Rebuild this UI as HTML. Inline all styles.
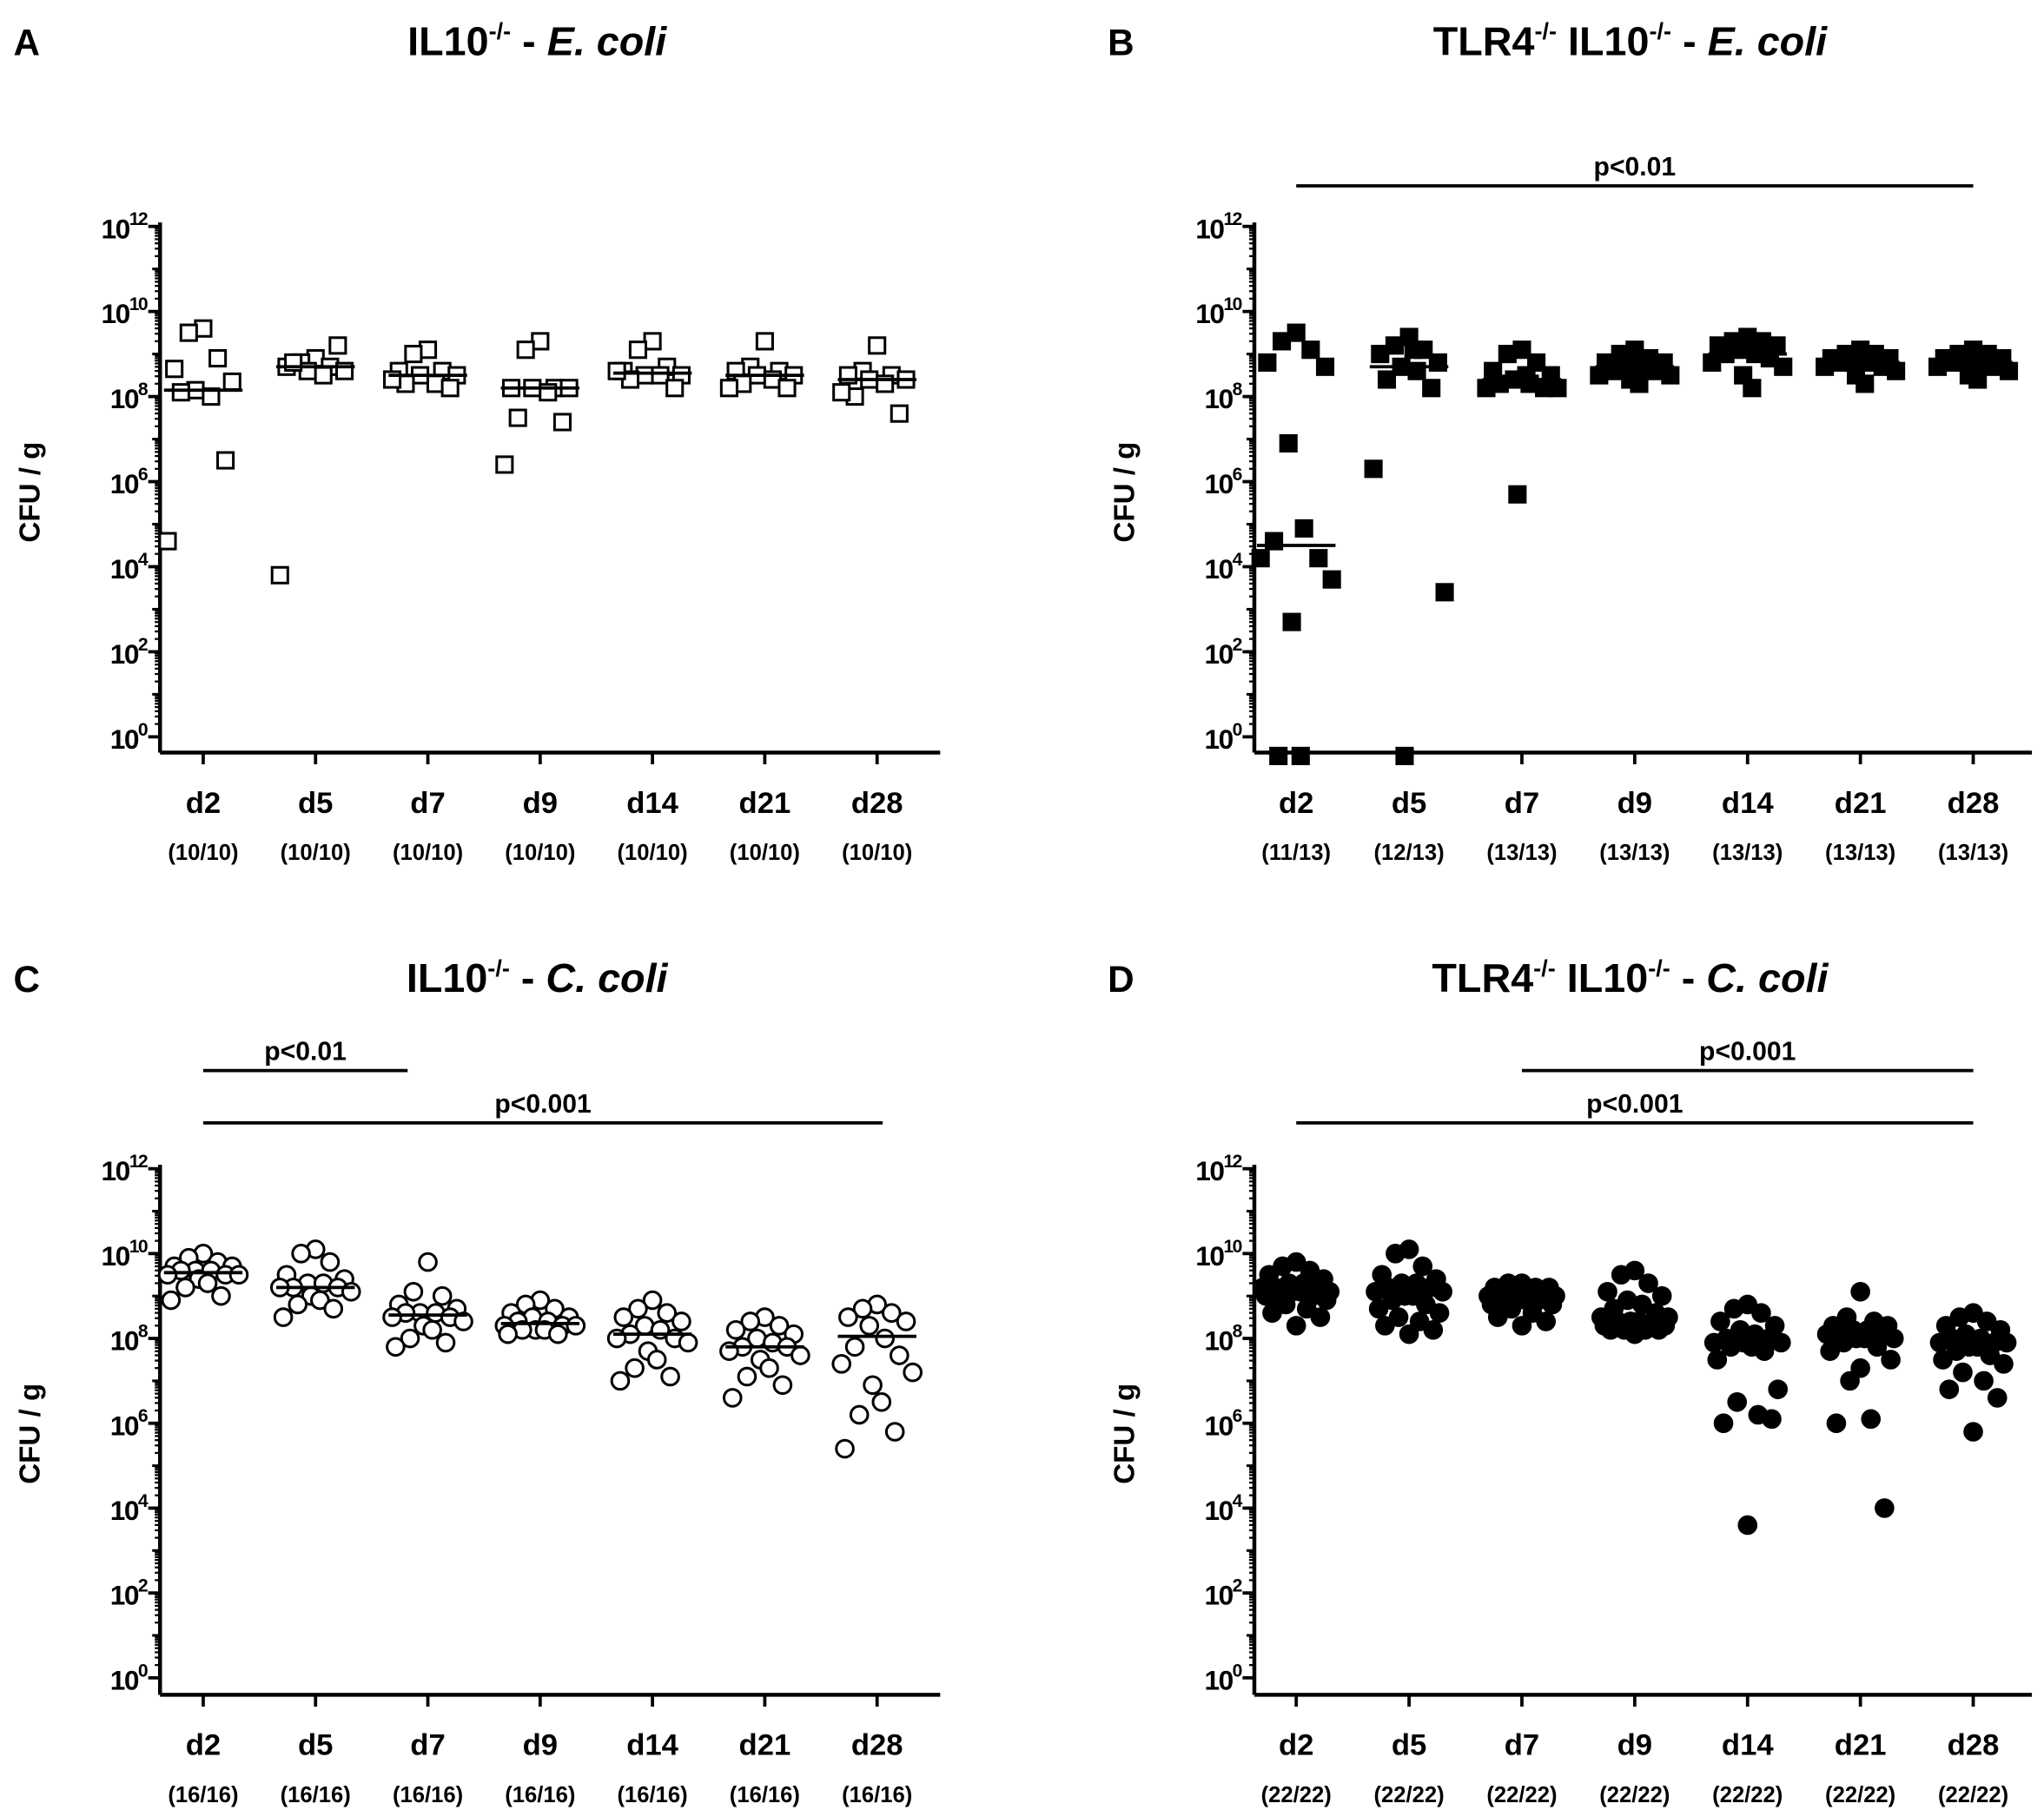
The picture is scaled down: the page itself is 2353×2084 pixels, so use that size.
<!DOCTYPE html>
<html><head><meta charset="utf-8"><style>
html,body{margin:0;padding:0;background:#fff}
svg{display:block}
text{font-family:"Liberation Sans",Arial,sans-serif;font-weight:bold;fill:#000}
</style></head><body>
<svg id="fig" width="2353" height="2084" viewBox="0 0 1561 1383" xmlns="http://www.w3.org/2000/svg"></svg>
<script>
const days = ["d2","d5","d7","d9","d14","d21","d28"];
const countsA = ["(10/10)","(10/10)","(10/10)","(10/10)","(10/10)","(10/10)","(10/10)"];
const countsB = ["(11/13)","(12/13)","(13/13)","(13/13)","(13/13)","(13/13)","(13/13)"];
const countsC = ["(16/16)","(16/16)","(16/16)","(16/16)","(16/16)","(16/16)","(16/16)"];
const countsD = ["(22/22)","(22/22)","(22/22)","(22/22)","(22/22)","(22/22)","(22/22)"];
const yTickExp = [0,2,4,6,8,10,12];
// log10 CFU/g values
const dataA = [
 [9.6,9.5,8.9,8.65,8.35,8.15,8.0,8.1,6.5,4.6],
 [8.9,8.8,8.7,8.7,8.6,8.6,8.5,8.8,9.2,3.8],
 [9.1,9.0,8.6,8.6,8.5,8.5,8.3,8.3,8.2,8.4],
 [9.3,9.1,8.2,8.2,8.2,8.2,8.1,7.5,7.4,6.4],
 [9.3,9.1,8.7,8.6,8.5,8.5,8.5,8.4,8.2,8.6],
 [9.3,8.7,8.6,8.6,8.5,8.5,8.4,8.3,8.2,8.2],
 [9.2,8.6,8.5,8.5,8.4,8.4,8.3,8.0,7.6,8.1]];
const medA = [8.15,8.7,8.5,8.2,8.55,8.5,8.4];
const dataB = [
 [9.5,9.3,9.1,8.8,8.7,6.9,4.9,4.6,4.2,4.2,3.7,2.7,-0.45,-0.45],
 [9.4,9.2,9.1,9.0,8.8,8.7,8.6,8.4,8.2,6.3,3.4,-0.45,9.1],
 [9.1,9.0,8.8,8.6,8.5,8.4,8.3,8.3,8.2,8.2,8.2,5.7,8.5],
 [9.1,9.0,8.9,8.8,8.8,8.7,8.7,8.6,8.6,8.5,8.5,8.4,8.3],
 [9.4,9.3,9.3,9.2,9.2,9.1,9.0,9.0,8.9,8.8,8.7,8.5,8.2],
 [9.1,9.0,9.0,8.9,8.9,8.8,8.8,8.8,8.7,8.7,8.6,8.5,8.3],
 [9.1,9.0,9.0,8.9,8.9,8.8,8.8,8.8,8.7,8.7,8.6,8.5,8.4]];
const medB = [4.5,8.7,8.4,8.7,9.0,8.8,8.8];
const dataC = [
 [10.0,9.9,9.8,9.7,9.7,9.6,9.6,9.6,9.5,9.5,9.5,9.4,9.3,9.2,9.0,8.9],
 [10.1,10.0,9.8,9.5,9.4,9.3,9.3,9.2,9.2,9.2,9.1,9.0,8.9,8.8,8.7,8.5],
 [9.8,9.1,9.0,8.8,8.7,8.6,8.6,8.6,8.5,8.5,8.4,8.3,8.2,8.0,7.9,7.8],
 [8.9,8.8,8.7,8.6,8.5,8.5,8.4,8.4,8.3,8.3,8.3,8.2,8.2,8.2,8.1,8.1],
 [8.9,8.7,8.6,8.5,8.4,8.3,8.2,8.1,8.0,8.0,7.9,7.7,7.5,7.3,7.1,7.0],
 [8.5,8.4,8.3,8.2,8.1,8.0,7.9,7.8,7.8,7.7,7.6,7.5,7.3,7.1,6.9,6.6],
 [8.8,8.7,8.6,8.5,8.4,8.3,8.0,7.8,7.6,7.4,7.2,6.9,6.5,6.2,5.8,5.4]];
const medC = [9.55,9.2,8.55,8.35,8.1,7.8,8.05];
const dataD = [
 [9.8,9.7,9.6,9.5,9.4,9.3,9.3,9.2,9.2,9.2,9.1,9.1,9.1,9.0,9.0,9.0,8.9,8.8,8.7,8.6,8.5,8.3],
 [10.1,10.0,9.7,9.5,9.4,9.3,9.3,9.2,9.2,9.1,9.1,9.0,9.0,8.9,8.8,8.7,8.6,8.5,8.4,8.3,8.2,8.1],
 [9.3,9.3,9.2,9.2,9.2,9.1,9.1,9.1,9.0,9.0,9.0,9.0,8.9,8.9,8.9,8.8,8.8,8.7,8.6,8.5,8.4,8.3],
 [9.6,9.5,9.3,9.1,9.0,8.9,8.8,8.7,8.6,8.5,8.5,8.4,8.4,8.4,8.3,8.3,8.3,8.2,8.2,8.2,8.2,8.1],
 [8.8,8.7,8.6,8.4,8.3,8.2,8.1,8.0,8.0,7.9,7.9,7.9,7.8,7.8,7.7,7.5,6.8,6.5,6.2,6.0,6.1,3.6],
 [9.1,8.5,8.4,8.3,8.3,8.2,8.2,8.1,8.1,8.1,8.0,8.0,8.0,7.9,7.8,7.7,7.5,7.0,6.1,6.0,4.0,7.3],
 [8.6,8.5,8.4,8.3,8.2,8.1,8.0,8.0,7.9,7.9,7.9,7.8,7.8,7.7,7.6,7.5,7.4,7.2,7.0,6.8,6.6,5.8]];
const medD = [9.1,9.05,9.0,8.45,7.9,8.05,7.9];

const NS="http://www.w3.org/2000/svg";
const svg=document.getElementById('fig');
function mk(tag,attrs,parent,txt){const e=document.createElementNS(NS,tag);for(const k in attrs)e.setAttribute(k,attrs[k]);if(txt!==undefined)e.textContent=txt;(parent||svg).appendChild(e);return e;}

function panel(cfg){
  const g=mk('g',{});
  
  
  const ax=cfg.ax, y12=cfg.y12, y0=cfg.y0, base=cfg.base;
  const yS=v=>y0-(v-0)*(y0-y12)/12;
  const xS=i=>cfg.x0+i*cfg.dx;
  const L=mk('text',{x:cfg.ax-112,y:cfg.ty,'font-size':28},g,cfg.letter);
  
  
  const T=mk('text',{x:cfg.tx,y:cfg.ty,'font-size':31,'text-anchor':'middle'},g);
  
  
  cfg.title.forEach(p=>{mk('tspan',p.a||{},T,p.t);});
  const ya=mk('line',{x1:ax,y1:y12-3,x2:ax,y2:base,stroke:'#000','stroke-width':3},g);
  
  
  const xa=mk('line',{x1:ax,y1:base,x2:cfg.xEnd,y2:base,stroke:'#000','stroke-width':3},g);
  
  
  for(let d=0;d<12;d++){for(let k=2;k<=9;k++){const yy=yS(d+Math.log10(k));mk('line',{x1:ax-4,y1:yy,x2:ax,y2:yy,stroke:'#000','stroke-width':1.5},g);}
    const yy=yS(d);mk('line',{x1:ax-6,y1:yy,x2:ax,y2:yy,stroke:'#000','stroke-width':2},g);}
  yTickExp.forEach(e=>{const yy=yS(e);
    mk('line',{x1:ax-9,y1:yy,x2:ax,y2:yy,stroke:'#000','stroke-width':2.5},g);
    const t=mk('text',{x:ax-10,y:yy+9,'font-size':21,'text-anchor':'end','letter-spacing':-1},g);
    
    
    mk('tspan',{},t,'10');mk('tspan',{dy:-10,'font-size':14},t,String(e));});
  const yl=mk('text',{x:0,y:0,'font-size':22,'text-anchor':'middle',transform:`translate(${ax-92},${(y12+y0)/2+8}) rotate(-90)`},g,'CFU / g');
  
  
  days.forEach((d,i)=>{const x=xS(i);
    mk('line',{x1:x,y1:base,x2:x,y2:base+9,stroke:'#000','stroke-width':2.5},g);
    const t=mk('text',{x:x,y:base+46,'font-size':23,'text-anchor':'middle'},g,d);
    
    
    const c=mk('text',{x:x,y:base+82,'font-size':17,'text-anchor':'middle'},g,cfg.counts[i]);
    
    
  });
  const offs=[0,-13,13,-26,26,-7,7,-20,20,-32,32,-4,4,-16,16,-29,29,-10,10,-23,23,0];
  cfg.data.forEach((arr,i)=>{
    arr.forEach((v,j)=>{const x=xS(i)+offs[j%offs.length]*(cfg.spread||1);const y=yS(v);let m;
      if(cfg.shape==='sq'){m=mk('rect',{x:x-6,y:y-6,width:12,height:12,fill:cfg.fill?'#000':'#fff',stroke:'#000','stroke-width':2},g);}
      else{m=mk('circle',{cx:x,cy:y,r:6.5,fill:cfg.fill?'#000':'#fff',stroke:'#000','stroke-width':2},g);}
      
      
    });
    const my=yS(cfg.med[i]);
    const ml=mk('line',{x1:xS(i)-30,y1:my,x2:xS(i)+30,y2:my,stroke:'#000','stroke-width':2.5},g);
    
    
  });
  cfg.sig.forEach(s=>{
    const l=mk('line',{x1:xS(s.a),y1:s.y,x2:xS(s.b),y2:s.y,stroke:'#000','stroke-width':2.5},g);
    
    
    const t=mk('text',{x:(xS(s.a)+xS(s.b))/2,y:s.y-8,'font-size':20,'text-anchor':'middle'},g,s.t);
    
    
  });
}
const it={'font-style':'italic'};
const sup={dy:-12,'font-size':18};
const dn={dy:12};
panel({letter:'A',ax:122,y12:173,y0:563,base:575,xEnd:718,x0:155,dx:85.8,ty:42,tx:410,counts:countsA,data:dataA,med:medA,shape:'sq',fill:false,spread:0.85,
 title:[{t:'IL10'},{t:'-/-',a:sup},{t:' - ',a:dn},{t:'E. coli',a:it}],sig:[]});
panel({letter:'B',ax:958,y12:173,y0:563,base:575,xEnd:1552,x0:990,dx:86.2,ty:42,tx:1245,counts:countsB,data:dataB,med:medB,shape:'sq',fill:true,spread:0.85,
 title:[{t:'TLR4'},{t:'-/-',a:sup},{t:' IL10',a:dn},{t:'-/-',a:sup},{t:' - ',a:dn},{t:'E. coli',a:it}],sig:[{a:0,b:6,y:142,t:'p<0.01'}]});
panel({letter:'C',ax:122,y12:893,y0:1282,base:1295,xEnd:718,x0:155,dx:85.8,ty:758,tx:410,counts:countsC,data:dataC,med:medC,shape:'c',fill:false,spread:0.85,
 title:[{t:'IL10'},{t:'-/-',a:sup},{t:' - ',a:dn},{t:'C. coli',a:it}],sig:[{a:0,b:1.82,y:818,t:'p<0.01'},{a:0,b:6.05,y:858,t:'p<0.001'}]});
panel({letter:'D',ax:958,y12:893,y0:1282,base:1295,xEnd:1552,x0:990,dx:86.2,ty:758,tx:1245,counts:countsD,data:dataD,med:medD,shape:'c',fill:true,spread:0.8,
 title:[{t:'TLR4'},{t:'-/-',a:sup},{t:' IL10',a:dn},{t:'-/-',a:sup},{t:' - ',a:dn},{t:'C. coli',a:it}],sig:[{a:2,b:6,y:818,t:'p<0.001'},{a:0,b:6,y:858,t:'p<0.001'}]});
</script>
</body></html>
